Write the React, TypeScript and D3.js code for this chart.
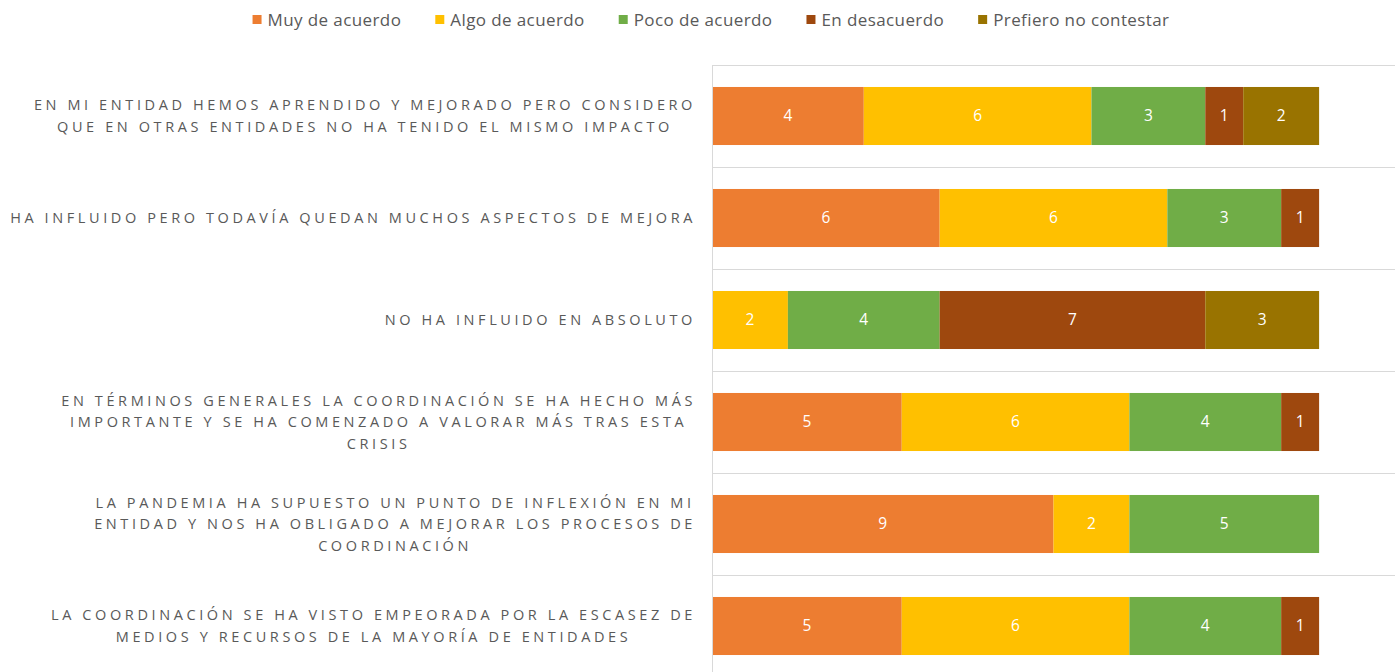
import React, { useEffect, useRef } from 'react';
import * as d3 from 'd3';

const seriesNames = ['Muy de acuerdo', 'Algo de acuerdo', 'Poco de acuerdo', 'En desacuerdo', 'Prefiero no contestar'];
const seriesColors = ['#ED7D31', '#FFC000', '#70AD47', '#9E480E', '#997300'];

const categoryLines = [
  ['EN MI ENTIDAD HEMOS APRENDIDO Y MEJORADO PERO CONSIDERO', 'QUE EN OTRAS ENTIDADES NO HA TENIDO EL MISMO IMPACTO'],
  ['HA INFLUIDO PERO TODAVÍA QUEDAN MUCHOS ASPECTOS DE MEJORA'],
  ['NO HA INFLUIDO EN ABSOLUTO'],
  ['EN TÉRMINOS GENERALES LA COORDINACIÓN SE HA HECHO MÁS', 'IMPORTANTE Y SE HA COMENZADO A VALORAR MÁS TRAS ESTA', 'CRISIS'],
  ['LA PANDEMIA HA SUPUESTO UN PUNTO DE INFLEXIÓN EN MI', 'ENTIDAD Y NOS HA OBLIGADO A MEJORAR LOS PROCESOS DE', 'COORDINACIÓN'],
  ['LA COORDINACIÓN SE HA VISTO EMPEORADA POR LA ESCASEZ DE', 'MEDIOS Y RECURSOS DE LA MAYORÍA DE ENTIDADES'],
];

// one array per series, in category order
const muyDeAcuerdo = [4, 6, 0, 5, 9, 5];
const algoDeAcuerdo = [6, 6, 2, 6, 2, 6];
const pocoDeAcuerdo = [3, 3, 4, 4, 5, 4];
const enDesacuerdo = [1, 1, 7, 1, 0, 1];
const prefieroNo = [2, 0, 3, 0, 0, 0];

const xMax = 18;

const App = () => {
  const svgRef = useRef<SVGSVGElement>(null);

  useEffect(() => {
    const width = 1395;
    const height = 672;
    const plotLeft = 712;
    const plotRight = 1395;
    const plotTop = 65;
    const plotBottom = 677;
    const textColor = '#595959';
    const gridColor = '#D9D9D9';

    const values = [muyDeAcuerdo, algoDeAcuerdo, pocoDeAcuerdo, enDesacuerdo, prefieroNo];
    const rows = categoryLines.map((_, i) => {
      const r: any = { idx: i };
      seriesNames.forEach((s, j) => (r[s] = values[j][i]));
      return r;
    });
    const stacked = d3.stack().keys(seriesNames)(rows);

    const x = d3.scaleLinear().domain([0, xMax]).range([plotLeft, plotRight]);
    const y = d3.scaleBand<number>()
      .domain(d3.range(categoryLines.length))
      .range([plotTop, plotBottom])
      .paddingInner(0.431)
      .paddingOuter(0.2155);

    const svg = d3.select(svgRef.current)
      .attr('width', width)
      .attr('height', height)
      .attr('viewBox', [0, 0, width, height].join(' '));
    svg.selectAll('*').remove();

    // gridlines between categories
    const step = y.step();
    const bounds = d3.range(categoryLines.length + 1).map(i => plotTop + i * step);
    svg.append('g')
      .selectAll('line')
      .data(bounds)
      .join('line')
      .attr('x1', plotLeft)
      .attr('x2', plotRight)
      .attr('y1', d => d + 0.5)
      .attr('y2', d => d + 0.5)
      .attr('stroke', gridColor)
      .attr('stroke-width', 1);

    // bars
    const layer = svg.append('g')
      .selectAll('g')
      .data(stacked)
      .join('g')
      .attr('fill', (_, i) => seriesColors[i]);
    layer.selectAll('rect')
      .data(d => d.filter(p => p[1] - p[0] > 0))
      .join('rect')
      .attr('x', d => x(d[0]))
      .attr('y', d => y((d.data as any).idx)!)
      .attr('width', d => x(d[1]) - x(d[0]))
      .attr('height', y.bandwidth());

    // value labels
    layer.selectAll('text')
      .data(d => d.filter(p => p[1] - p[0] > 0))
      .join('text')
      .attr('x', d => (x(d[0]) + x(d[1])) / 2)
      .attr('y', d => y((d.data as any).idx)! + y.bandwidth() / 2)
      .attr('dy', '0.35em')
      .attr('text-anchor', 'middle')
      .attr('fill', '#FFFFFF')
      .attr('font-family', 'Open Sans, sans-serif')
      .attr('font-size', 15.5)
      .text(d => d[1] - d[0]);

    // category axis line
    svg.append('line')
      .attr('x1', plotLeft + 0.5)
      .attr('x2', plotLeft + 0.5)
      .attr('y1', plotTop)
      .attr('y2', plotBottom)
      .attr('stroke', gridColor);

    // category labels, lines centred within a right-aligned block
    const labelRight = 696;
    const lineH = 21.5;
    categoryLines.forEach((lines, i) => {
      const g = svg.append('g');
      const texts = g.selectAll('text')
        .data(lines)
        .join('text')
        .attr('font-family', 'Open Sans, sans-serif')
        .attr('font-size', 14.5)
        .attr('letter-spacing', '3.6px')
        .attr('fill', textColor)
        .attr('text-anchor', 'middle')
        .text(d => d);
      let maxW = 0;
      texts.each(function () {
        maxW = Math.max(maxW, (this as SVGTextElement).getComputedTextLength());
      });
      const cx = labelRight - maxW / 2;
      const cy = y(i)! + y.bandwidth() / 2;
      texts
        .attr('x', cx)
        .attr('y', (_, k) => cy + (k - (lines.length - 1) / 2) * lineH)
        .attr('dy', '0.35em');
    });

    // legend
    const legend = svg.append('g');
    const items = legend.selectAll('g')
      .data(seriesNames)
      .join('g');
    items.append('rect')
      .attr('width', 9)
      .attr('height', 9)
      .attr('y', 15)
      .attr('fill', (_, i) => seriesColors[i]);
    items.append('text')
      .attr('x', 15)
      .attr('y', 20)
      .attr('dy', '0.35em')
      .attr('font-family', 'Open Sans, sans-serif')
      .attr('font-size', 17)
      .attr('letter-spacing', '0.4px')
      .attr('fill', textColor)
      .text(d => d);
    const widths: number[] = [];
    items.select('text').each(function () {
      widths.push((this as SVGTextElement).getComputedTextLength());
    });
    const gap = 34;
    const itemW = widths.map(w => 15 + w);
    const total = d3.sum(itemW) + gap * (itemW.length - 1);
    let cursor = 711 - total / 2;
    items.attr('transform', (_, i) => {
      const t = `translate(${cursor},0)`;
      cursor += itemW[i] + gap;
      return t;
    });
  }, []);

  return (
    <svg ref={svgRef} style={{ position: 'absolute', left: 0, top: 0, background: '#fff' }}></svg>
  );
};

export default App;
